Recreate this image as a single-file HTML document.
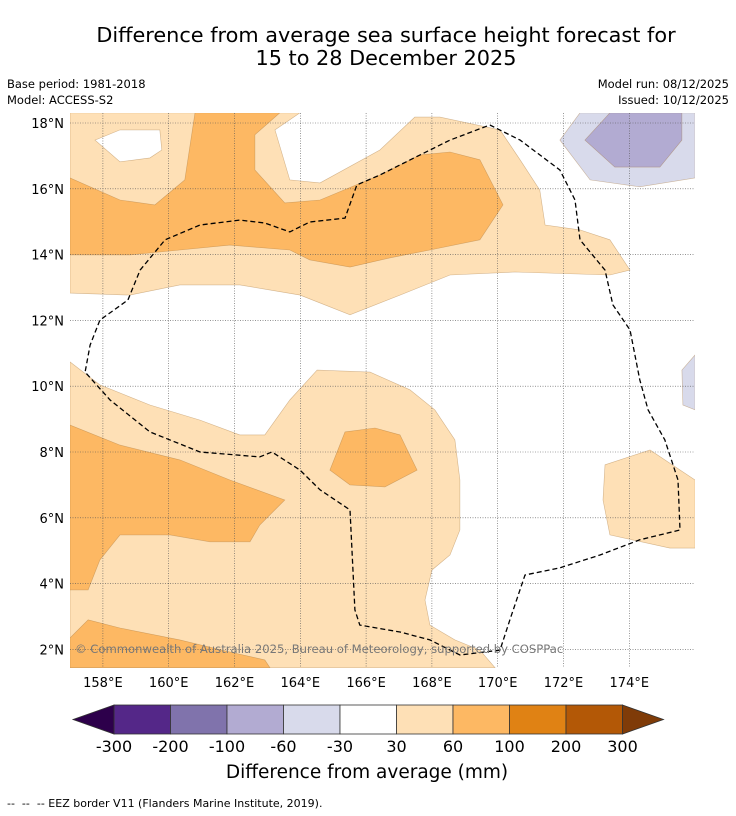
<!DOCTYPE html>
<html><head><meta charset="utf-8"><style>
html,body{margin:0;padding:0;background:#fff;}
svg{display:block;font-family:"DejaVu Sans","Liberation Sans",sans-serif;}
</style></head><body>
<svg id="chart" width="736" height="816" viewBox="0 0 736 816" xmlns="http://www.w3.org/2000/svg">
<text x="386" y="42" font-size="20.8" text-anchor="middle">Difference from average sea surface height forecast for</text>
<text x="386" y="65" font-size="20.8" text-anchor="middle">15 to 28 December 2025</text>
<text x="7" y="88" font-size="11.5">Base period: 1981-2018</text>
<text x="7" y="104" font-size="11.5">Model: ACCESS-S2</text>
<text x="729" y="88" font-size="11.5" text-anchor="end">Model run: 08/12/2025</text>
<text x="729" y="104" font-size="11.5" text-anchor="end">Issued: 10/12/2025</text>
<defs><clipPath id="mapclip"><rect x="70" y="113" width="625" height="555"/></clipPath></defs>
<g id="map" clip-path="url(#mapclip)"></g>
<g id="grid"></g>
<g id="eez" clip-path="url(#mapclip)"></g>
<text x="75" y="653" font-size="11.6" fill="#777">© Commonwealth of Australia 2025, Bureau of Meteorology, supported by COSPPac</text>
<g id="axes"></g>
<g id="cbar"></g>
<text x="367" y="778" font-size="18.5" text-anchor="middle">Difference from average (mm)</text>
<text x="7" y="807" font-size="11" xml:space="preserve" style="white-space:pre">--  --  -- EEZ border V11 (Flanders Marine Institute, 2019).</text>
</svg>
<script>
const lonTicks = [158,160,162,164,166,168,170,172,174];
const latTicks = [2,4,6,8,10,12,14,16,18];
const levels = [-300,-200,-100,-60,-30,30,60,100,200,300];
const levelColors = ["#542788","#8073ac","#b2abd2","#d8daeb","#ffffff","#fee0b6","#fdb863","#e08214","#b35806"];
const lowExtendColor = "#2d004b";
const highExtendColor = "#7f3b08";
const lightTop = [[157,18.31],[163.99,18.31],[163.23,17.79],[163.68,16.27],[164.6,16.18],[166.42,17.18],[167.48,18.18],[168.24,18.18],[170.07,17.79],[170.68,16.88],[171.28,15.96],[171.44,14.9],[172.5,14.75],[173.41,14.45],[174.02,13.53],[173.41,13.38],[170.52,13.47],[168.55,13.38],[167.03,12.77],[165.51,12.17],[163.99,12.77],[162.16,13.08],[160.34,13.08],[158.82,12.77],[157,12.83]];
const lightTopHole = [[157.76,17.48],[158.52,17.79],[159.73,17.79],[159.79,17.18],[159.43,16.94],[158.52,16.82]];
const midTop = [[157,16.33],[158.52,15.66],[159.58,15.51],[160.49,16.27],[160.8,18.31],[163.38,18.31],[162.62,17.64],[162.62,16.57],[163.53,15.57],[164.6,15.66],[166.42,16.42],[167.64,17.03],[168.55,17.12],[169.46,16.88],[170.16,15.51],[169.46,14.45],[167.94,14.14],[166.72,13.9],[165.51,13.62],[164.29,13.84],[163.68,14.14],[161.86,14.29],[160.34,14.14],[158.82,13.99],[157,13.99]];
const lightBot = [[157,10.74],[157.91,10.04],[159.43,9.43],[160.95,8.97],[162.16,8.52],[162.92,8.52],[163.68,9.58],[164.51,10.49],[166.12,10.43],[167.33,9.89],[168.09,9.28],[168.7,8.37],[168.85,7.15],[168.85,5.63],[168.55,4.87],[168.0,4.41],[167.79,3.5],[167.94,2.74],[168.7,2.29],[169.46,1.98],[169.92,1.44],[157,1.44]];
const lightRight = [[173.26,7.61],[174.63,8.06],[176,7.15],[176,5.08],[175.23,5.08],[173.41,5.48],[173.2,6.54]];
const midLeft = [[157,8.82],[158.52,8.21],[160.34,7.76],[161.86,7.15],[163.53,6.54],[162.77,5.78],[162.47,5.27],[161.25,5.27],[160.04,5.48],[158.52,5.48],[157.91,4.72],[157.55,3.81],[157,3.81]];
const midBot = [[157,2.35],[157.55,2.9],[158.52,2.65],[160.34,2.29],[161.86,1.92],[162.92,1.68],[163.08,1.44],[157,1.44]];
const midBlob = [[164.9,7.45],[165.36,8.61],[166.27,8.73],[167.03,8.52],[167.55,7.45],[166.57,6.94],[165.51,7.0]];
const purpleLight = [[171.89,17.48],[172.5,18.31],[176,18.31],[176,16.33],[174.32,16.06],[172.81,16.27]];
const purpleMid = [[172.65,17.48],[173.41,18.31],[175.6,18.31],[175.6,17.48],[174.93,16.66],[173.56,16.66]];
const purpleRight = [[175.6,10.49],[176,10.95],[176,9.28],[175.63,9.43]];
const eezLine = [[169.76,17.94],[170.68,17.48],[171.89,16.57],[172.35,15.66],[172.5,14.45],[173.26,13.53],[173.5,12.47],[174.02,11.71],[174.32,10.19],[174.57,9.28],[175.08,8.37],[175.48,7.15],[175.54,5.63],[174.32,5.33],[173.11,4.87],[171.89,4.48],[170.83,4.26],[170.37,2.9],[170.07,1.98],[168.85,1.83],[167.94,2.29],[167.03,2.53],[165.81,2.74],[165.66,3.2],[165.51,6.24],[164.6,6.85],[163.99,7.45],[163.14,8.0],[162.77,7.85],[160.95,8.0],[159.43,8.61],[158.22,9.58],[157.46,10.43],[157.61,11.25],[157.91,12.01],[158.76,12.62],[159.13,13.53],[159.89,14.45],[160.95,14.9],[162.16,15.05],[162.92,14.96],[163.68,14.69],[164.29,14.99],[165.36,15.11],[165.72,16.12],[166.42,16.42],[167.64,17.03],[168.55,17.48],[169.76,17.94]];

const NS="http://www.w3.org/2000/svg";
function xs(lon){return 70+(lon-157)*32.9;}
function ys(lat){return 123+(18-lat)*32.9;}
function pts(a){return a.map(p=>xs(p[0]).toFixed(1)+","+ys(p[1]).toFixed(1));}
function mk(tag,parent){const e=document.createElementNS(NS,tag);parent.appendChild(e);return e;}
const map=document.getElementById('map');
function poly(a,fill,name,hole){
  const p=mk('path',map);
  let d="M"+pts(a).join("L")+"Z";
  if(hole) d+="M"+pts(hole).join("L")+"Z";
  p.setAttribute('d',d);
  p.setAttribute('fill',fill);
  p.setAttribute('fill-rule','evenodd');
  p.setAttribute('stroke','rgba(160,110,50,0.45)');
  p.setAttribute('stroke-width','0.6');
  
  
}
poly(lightTop,levelColors[5],'contour-30-60-north',lightTopHole);
poly(midTop,levelColors[6],'contour-60-100-north');
poly(lightBot,levelColors[5],'contour-30-60-south');
poly(lightRight,levelColors[5],'contour-30-60-east');
poly(midLeft,levelColors[6],'contour-60-100-west');
poly(midBot,levelColors[6],'contour-60-100-south');
poly(midBlob,levelColors[6],'contour-60-100-central');
poly(purpleLight,levelColors[3],'contour-minus30-minus60-ne');
poly(purpleMid,levelColors[2],'contour-minus60-minus100-ne');
poly(purpleRight,levelColors[3],'contour-minus30-minus60-east');

const eez=document.getElementById('eez');
const el=mk('polyline',eez);
el.setAttribute('points',pts(eezLine).join(" "));
el.setAttribute('fill','none');el.setAttribute('stroke','#000');
el.setAttribute('stroke-width','1.3');el.setAttribute('stroke-dasharray','5,3');



const grid=document.getElementById('grid'), axes=document.getElementById('axes');
lonTicks.forEach(l=>{
  const g=mk('line',grid);
  g.setAttribute('x1',xs(l));g.setAttribute('x2',xs(l));g.setAttribute('y1',113);g.setAttribute('y2',668);
  g.setAttribute('stroke','#555');g.setAttribute('stroke-width','0.6');g.setAttribute('stroke-dasharray','1,1.5');
  
  
  const t=mk('text',axes);
  t.setAttribute('x',xs(l));t.setAttribute('y',687);t.setAttribute('font-size','13');t.setAttribute('text-anchor','middle');
  t.textContent=l+"°E";
  
  
});
latTicks.forEach(l=>{
  const g=mk('line',grid);
  g.setAttribute('x1',70);g.setAttribute('x2',695);g.setAttribute('y1',ys(l));g.setAttribute('y2',ys(l));
  g.setAttribute('stroke','#555');g.setAttribute('stroke-width','0.6');g.setAttribute('stroke-dasharray','1,1.5');
  
  
  const t=mk('text',axes);
  t.setAttribute('x',64);t.setAttribute('y',ys(l)+5);t.setAttribute('font-size','13');t.setAttribute('text-anchor','end');
  t.textContent=l+"°N";
  
  
});

const cb=document.getElementById('cbar');
const cbX0=114, cbW=56.5, cbY=705, cbH=29;
levelColors.forEach((c,i)=>{
  const r=mk('rect',cb);
  r.setAttribute('x',cbX0+i*cbW);r.setAttribute('y',cbY);r.setAttribute('width',cbW);r.setAttribute('height',cbH);
  r.setAttribute('fill',c);r.setAttribute('stroke','#333');r.setAttribute('stroke-width','0.8');
  
  
});
const cbEnd=cbX0+levelColors.length*cbW;
const lo=mk('polygon',cb);
lo.setAttribute('points',`${cbX0},${cbY} ${cbX0-41},${cbY+cbH/2} ${cbX0},${cbY+cbH}`);
lo.setAttribute('fill',lowExtendColor);lo.setAttribute('stroke','#333');lo.setAttribute('stroke-width','0.8');


const hi=mk('polygon',cb);
hi.setAttribute('points',`${cbEnd},${cbY} ${cbEnd+41},${cbY+cbH/2} ${cbEnd},${cbY+cbH}`);
hi.setAttribute('fill',highExtendColor);hi.setAttribute('stroke','#333');hi.setAttribute('stroke-width','0.8');


levels.forEach((v,i)=>{
  const t=mk('text',cb);
  t.setAttribute('x',cbX0+i*cbW);t.setAttribute('y',752);t.setAttribute('font-size','16');t.setAttribute('text-anchor','middle');
  t.textContent=v;
  
  
});
</script>
</body></html>
